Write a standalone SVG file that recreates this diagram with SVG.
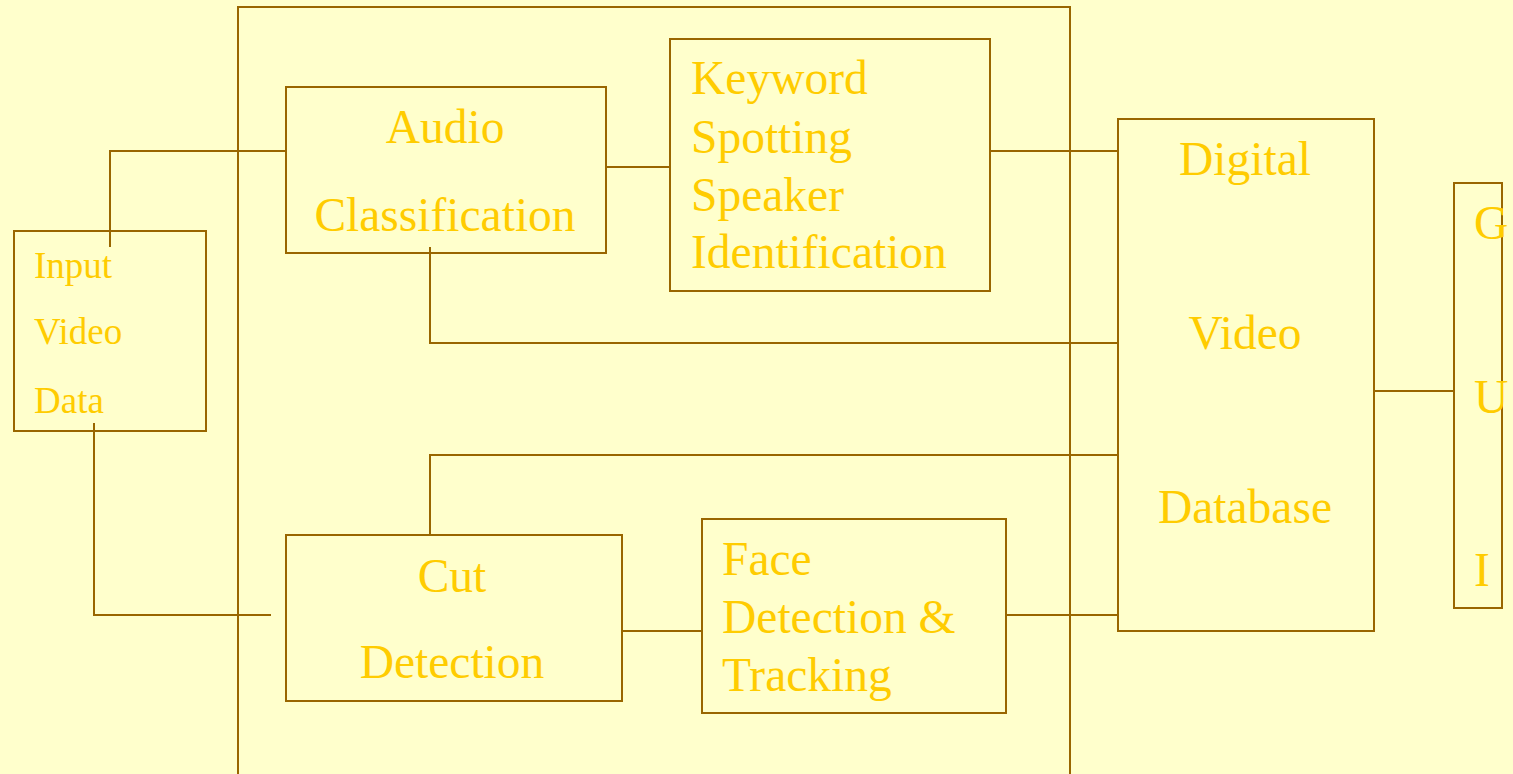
<svg xmlns="http://www.w3.org/2000/svg" width="1513" height="774" viewBox="0 0 1513 774">
  <style>
    .box { fill: none; stroke: #996600; stroke-width: 2; }
    .wire { fill: none; stroke: #996600; stroke-width: 2; }
    .lbl { fill: #FFCC00; font-family: "Liberation Serif", "Times New Roman", serif; font-size: 47.5px; }
    .sm { font-size: 37px; }
    .mid { text-anchor: middle; }
  </style>
  <rect x="0" y="0" width="1513" height="774" fill="#FFFFCC"/>

  <!-- processing frame -->
  <g id="frame">
    <rect class="box" x="238" y="7" width="832" height="800"/>
  </g>

  <!-- connectors -->
  <g id="connectors">
    <polyline class="wire" points="110,247 110,151 286,151"/>
    <polyline class="wire" points="94,423 94,615 271,615"/>
    <line class="wire" x1="606" y1="167" x2="670" y2="167"/>
    <line class="wire" x1="990" y1="151" x2="1118" y2="151"/>
    <polyline class="wire" points="430,247 430,343 1118,343"/>
    <polyline class="wire" points="430,535 430,455 1118,455"/>
    <line class="wire" x1="622" y1="631" x2="702" y2="631"/>
    <line class="wire" x1="1006" y1="615" x2="1118" y2="615"/>
    <line class="wire" x1="1374" y1="391" x2="1454" y2="391"/>
  </g>

  <g id="input">
    <rect class="box" x="14" y="231" width="192" height="200"/>
    <text class="lbl sm" x="34" y="278">Input</text>
    <text class="lbl sm" x="34" y="344">Video</text>
    <text class="lbl sm" x="34" y="413">Data</text>
  </g>

  <g id="audio">
    <rect class="box" x="286" y="87" width="320" height="166"/>
    <text class="lbl mid" x="445" y="143">Audio</text>
    <text class="lbl mid" x="445" y="231">Classification</text>
  </g>

  <g id="keyword">
    <rect class="box" x="670" y="39" width="320" height="252"/>
    <text class="lbl" x="691" y="94">Keyword</text>
    <text class="lbl" x="691" y="153">Spotting</text>
    <text class="lbl" x="691" y="211">Speaker</text>
    <text class="lbl" x="691" y="268">Identification</text>
  </g>

  <g id="cut">
    <rect class="box" x="286" y="535" width="336" height="166"/>
    <text class="lbl mid" x="452" y="592">Cut</text>
    <text class="lbl mid" x="452" y="678">Detection</text>
  </g>

  <g id="face">
    <rect class="box" x="702" y="519" width="304" height="194"/>
    <text class="lbl" x="722" y="575">Face</text>
    <text class="lbl" x="722" y="633">Detection &amp;</text>
    <text class="lbl" x="722" y="691">Tracking</text>
  </g>

  <g id="database">
    <rect class="box" x="1118" y="119" width="256" height="512"/>
    <text class="lbl mid" x="1245" y="175">Digital</text>
    <text class="lbl mid" x="1245" y="349">Video</text>
    <text class="lbl mid" x="1245" y="523">Database</text>
  </g>

  <g id="gui">
    <rect class="box" x="1454" y="183" width="48" height="425"/>
    <text class="lbl" x="1474" y="239">G</text>
    <text class="lbl" x="1474" y="413">U</text>
    <text class="lbl" x="1474" y="586">I</text>
  </g>
</svg>
